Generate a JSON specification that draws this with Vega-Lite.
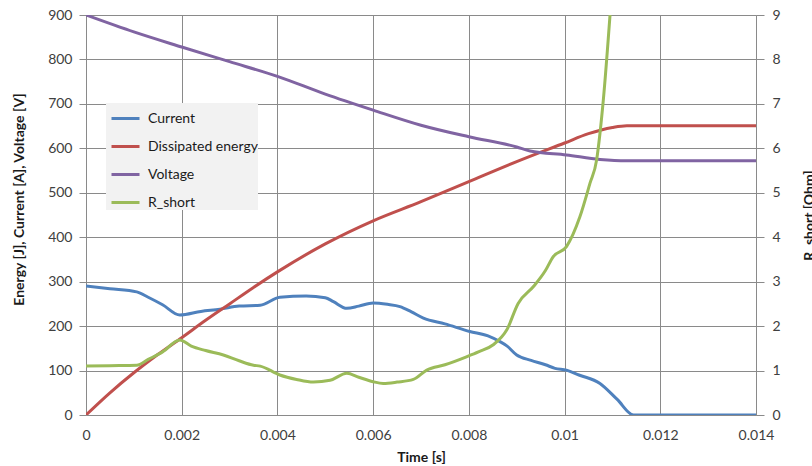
{
  "$schema": "https://vega.github.io/schema/vega-lite/v6.json",
  "width": 670,
  "height": 400,
  "autosize": {"type": "none"},
  "padding": {"left": 86, "top": 15, "right": 56, "bottom": 51},
  "background": "white",
  "config": {
    "font": "Lato",
    "view": {"stroke": null},
    "axis": {"labelFont": "Lato", "titleFont": "Lato", "labelFontSize": 14, "labelColor": "#404040", "titleFontSize": 14, "titleFontWeight": "bold", "titleColor": "#1a1a1a", "gridColor": "#8a8a8a", "domainColor": "#8a8a8a", "tickColor": "#8a8a8a"}
  },
  "datasets": {
    "main": [
      {"t": 0, "value": 290, "series": "Current"},
      {"t": 0.0005, "value": 284, "series": "Current"},
      {"t": 0.00106, "value": 277, "series": "Current"},
      {"t": 0.0013, "value": 265, "series": "Current"},
      {"t": 0.0016, "value": 248, "series": "Current"},
      {"t": 0.00196, "value": 225, "series": "Current"},
      {"t": 0.0024, "value": 233, "series": "Current"},
      {"t": 0.0028, "value": 238, "series": "Current"},
      {"t": 0.0032, "value": 245, "series": "Current"},
      {"t": 0.00364, "value": 247, "series": "Current"},
      {"t": 0.00405, "value": 265, "series": "Current"},
      {"t": 0.0046, "value": 268, "series": "Current"},
      {"t": 0.005, "value": 264, "series": "Current"},
      {"t": 0.00517, "value": 255, "series": "Current"},
      {"t": 0.00545, "value": 240, "series": "Current"},
      {"t": 0.0057, "value": 245, "series": "Current"},
      {"t": 0.006, "value": 252, "series": "Current"},
      {"t": 0.0063, "value": 249, "series": "Current"},
      {"t": 0.00656, "value": 244, "series": "Current"},
      {"t": 0.0068, "value": 232, "series": "Current"},
      {"t": 0.00705, "value": 218, "series": "Current"},
      {"t": 0.0075, "value": 205, "series": "Current"},
      {"t": 0.00802, "value": 188, "series": "Current"},
      {"t": 0.0084, "value": 178, "series": "Current"},
      {"t": 0.00865, "value": 165, "series": "Current"},
      {"t": 0.0088, "value": 155, "series": "Current"},
      {"t": 0.009, "value": 135, "series": "Current"},
      {"t": 0.0093, "value": 123, "series": "Current"},
      {"t": 0.0096, "value": 113, "series": "Current"},
      {"t": 0.0098, "value": 105, "series": "Current"},
      {"t": 0.01004, "value": 101, "series": "Current"},
      {"t": 0.0103, "value": 90, "series": "Current"},
      {"t": 0.01074, "value": 71, "series": "Current"},
      {"t": 0.0111, "value": 35, "series": "Current"},
      {"t": 0.01144, "value": 0, "series": "Current"},
      {"t": 0.014, "value": 0, "series": "Current"},
      {"t": 0, "value": 0, "series": "Dissipated energy"},
      {"t": 0.0005, "value": 50, "series": "Dissipated energy"},
      {"t": 0.001, "value": 95, "series": "Dissipated energy"},
      {"t": 0.0015, "value": 136, "series": "Dissipated energy"},
      {"t": 0.002, "value": 174, "series": "Dissipated energy"},
      {"t": 0.0025, "value": 213, "series": "Dissipated energy"},
      {"t": 0.003, "value": 250, "series": "Dissipated energy"},
      {"t": 0.0035, "value": 287, "series": "Dissipated energy"},
      {"t": 0.004, "value": 322, "series": "Dissipated energy"},
      {"t": 0.005, "value": 385, "series": "Dissipated energy"},
      {"t": 0.006, "value": 437, "series": "Dissipated energy"},
      {"t": 0.007, "value": 480, "series": "Dissipated energy"},
      {"t": 0.008, "value": 525, "series": "Dissipated energy"},
      {"t": 0.009, "value": 570, "series": "Dissipated energy"},
      {"t": 0.01, "value": 612, "series": "Dissipated energy"},
      {"t": 0.0105, "value": 633, "series": "Dissipated energy"},
      {"t": 0.011, "value": 647, "series": "Dissipated energy"},
      {"t": 0.0113, "value": 651, "series": "Dissipated energy"},
      {"t": 0.014, "value": 651, "series": "Dissipated energy"},
      {"t": 0, "value": 900, "series": "Voltage"},
      {"t": 0.001, "value": 862, "series": "Voltage"},
      {"t": 0.002, "value": 828, "series": "Voltage"},
      {"t": 0.003, "value": 795, "series": "Voltage"},
      {"t": 0.004, "value": 762, "series": "Voltage"},
      {"t": 0.005, "value": 722, "series": "Voltage"},
      {"t": 0.006, "value": 686, "series": "Voltage"},
      {"t": 0.007, "value": 652, "series": "Voltage"},
      {"t": 0.008, "value": 626, "series": "Voltage"},
      {"t": 0.009, "value": 603, "series": "Voltage"},
      {"t": 0.00928, "value": 594, "series": "Voltage"},
      {"t": 0.01004, "value": 585, "series": "Voltage"},
      {"t": 0.01074, "value": 575, "series": "Voltage"},
      {"t": 0.0113, "value": 572, "series": "Voltage"},
      {"t": 0.014, "value": 572, "series": "Voltage"},
      {"t": 0, "value": 1.10, "series": "R_short"},
      {"t": 0.0005, "value": 1.11, "series": "R_short"},
      {"t": 0.00106, "value": 1.12, "series": "R_short"},
      {"t": 0.0013, "value": 1.25, "series": "R_short"},
      {"t": 0.0016, "value": 1.42, "series": "R_short"},
      {"t": 0.00196, "value": 1.69, "series": "R_short"},
      {"t": 0.0022, "value": 1.55, "series": "R_short"},
      {"t": 0.0025, "value": 1.45, "series": "R_short"},
      {"t": 0.00287, "value": 1.35, "series": "R_short"},
      {"t": 0.0032, "value": 1.22, "series": "R_short"},
      {"t": 0.0035, "value": 1.12, "series": "R_short"},
      {"t": 0.00364, "value": 1.10, "series": "R_short"},
      {"t": 0.00405, "value": 0.90, "series": "R_short"},
      {"t": 0.0044, "value": 0.80, "series": "R_short"},
      {"t": 0.00475, "value": 0.74, "series": "R_short"},
      {"t": 0.0051, "value": 0.78, "series": "R_short"},
      {"t": 0.00545, "value": 0.94, "series": "R_short"},
      {"t": 0.0057, "value": 0.85, "series": "R_short"},
      {"t": 0.006, "value": 0.75, "series": "R_short"},
      {"t": 0.00621, "value": 0.71, "series": "R_short"},
      {"t": 0.0065, "value": 0.74, "series": "R_short"},
      {"t": 0.00684, "value": 0.80, "series": "R_short"},
      {"t": 0.00712, "value": 1.01, "series": "R_short"},
      {"t": 0.0075, "value": 1.13, "series": "R_short"},
      {"t": 0.00795, "value": 1.31, "series": "R_short"},
      {"t": 0.0082, "value": 1.42, "series": "R_short"},
      {"t": 0.00851, "value": 1.58, "series": "R_short"},
      {"t": 0.00879, "value": 1.91, "series": "R_short"},
      {"t": 0.00903, "value": 2.51, "series": "R_short"},
      {"t": 0.00935, "value": 2.89, "series": "R_short"},
      {"t": 0.0096, "value": 3.25, "series": "R_short"},
      {"t": 0.00976, "value": 3.56, "series": "R_short"},
      {"t": 0.01004, "value": 3.79, "series": "R_short"},
      {"t": 0.01032, "value": 4.46, "series": "R_short"},
      {"t": 0.01053, "value": 5.21, "series": "R_short"},
      {"t": 0.01067, "value": 5.74, "series": "R_short"},
      {"t": 0.01074, "value": 6.34, "series": "R_short"},
      {"t": 0.01081, "value": 7.09, "series": "R_short"},
      {"t": 0.01095, "value": 9.0, "series": "R_short"}
    ]
  },
  "data": {"name": "main"},
  "layer": [
    {
      "transform": [{"filter": "datum.series !== 'R_short'"}],
      "mark": {"type": "line", "strokeWidth": 3, "interpolate": "monotone", "clip": true},
      "encoding": {
        "x": {"field": "t", "type": "quantitative", "scale": {"domain": [0, 0.014], "nice": false, "zero": false},
          "axis": {"title": "Time [s]", "values": [0, 0.002, 0.004, 0.006, 0.008, 0.01, 0.012, 0.014], "format": "~g", "grid": true, "tickSize": 0, "labelPadding": 13, "titlePadding": 8, "labelFlush": false}},
        "y": {"field": "value", "type": "quantitative", "scale": {"domain": [0, 900], "nice": false},
          "axis": {"title": "Energy [J], Current [A], Voltage [V]", "values": [0, 100, 200, 300, 400, 500, 600, 700, 800, 900], "grid": true, "tickSize": 7, "labelPadding": 7, "titleAngle": 270, "titleX": -63, "titleY": 184, "titleBaseline": "alphabetic", "titleAlign": "center"}},
        "color": {"field": "series", "type": "nominal",
          "scale": {"domain": ["Current", "Dissipated energy", "Voltage", "R_short"], "range": ["#4f81bd", "#c0504d", "#8064a2", "#9bbb59"]},
          "legend": {"title": null, "orient": "none", "legendX": 20, "legendY": 88, "fillColor": "#f2f2f2", "padding": 0, "symbolOffset": 4, "symbolType": "stroke", "symbolSize": 784, "symbolStrokeWidth": 3, "labelFontSize": 14, "labelFont": "Lato", "labelColor": "#1a1a1a", "rowPadding": 5, "labelOffset": 7}}
      }
    },
    {
      "transform": [{"filter": "datum.series === 'R_short'"}],
      "mark": {"type": "line", "strokeWidth": 3, "interpolate": "monotone", "clip": true},
      "encoding": {
        "x": {"field": "t", "type": "quantitative"},
        "y": {"field": "value", "type": "quantitative", "scale": {"domain": [0, 9], "nice": false},
          "axis": {"title": "R_short [Ohm]", "orient": "right", "values": [0, 1, 2, 3, 4, 5, 6, 7, 8, 9], "grid": false, "tickSize": 8, "labelPadding": 8, "titleAngle": 270, "titleX": 46, "titleY": 200, "titleBaseline": "top", "titleAlign": "center"}},
        "color": {"field": "series", "type": "nominal"}
      }
    }
  ],
  "resolve": {"scale": {"y": "independent"}}
}
